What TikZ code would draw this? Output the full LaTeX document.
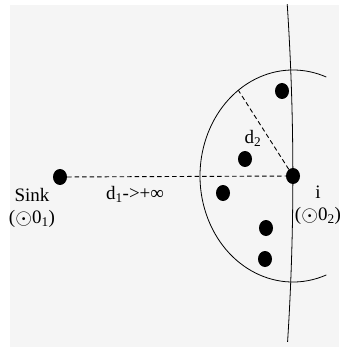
\documentclass[tikz,border=0pt]{standalone}
\usepackage{fontspec}
\usepackage{graphicx}
\setmainfont{Liberation Serif}
\usetikzlibrary{calc,shapes.geometric}
\definecolor{sinkink}{gray}{0}
\definecolor{sinkpaper}{gray}{0.96}
\newcommand{\circdot}{\raisebox{-.1ex}{\scalebox{1.25}{$\odot$}}}

\begin{document}
\begin{tikzpicture}[x=1pt,y=-1pt,
  dot/.style={ellipse,fill=sinkink,inner sep=0pt,minimum width=14pt,minimum height=16pt},
  reach/.style={line width=.9pt,dash pattern=on 4.5pt off 3pt},
  rim/.style={line width=.8pt,draw=sinkink},
  lbl/.style={font=\fontsize{19}{22}\selectfont,align=center,inner sep=0pt}]
\useasboundingbox (0,0) rectangle (339,347);
\fill[sinkpaper] (10,5) rectangle (339,347);
% sink and node i
\node[dot] (sink) at (60,177) {};
\node[dot] (i) at (293,176) {};
% neighbours of i
\foreach \p [count=\k] in {(282,91),(245,159),(223,193),(266,228),(265,259)}
  \node[dot] (nb\k) at \p {};
% far circle round the sink, and the half circle round i
\draw[rim] (i.center) ++(-2600,0) ++(-3.79:2600) arc[start angle=-3.79,end angle=3.66,radius=2600];
\draw[rim] (i.center) ++(69:93 and 106) arc[start angle=69,end angle=291,x radius=93,y radius=106];
\coordinate (rimpt) at ($(i.center)+(234:93 and 106)$);
\draw[reach] (sink) -- (i);
\draw[reach] (i) -- (rimpt);
\node[lbl] (sinklbl) at (32,208) {Sink\\(\circdot0\textsubscript{1})};
\node[lbl] (d1lbl) at (135,194) {d\textsubscript{1}->+∞};
\node[lbl] (d2lbl) at (253,138) {d\textsubscript{2}};
\node[lbl] (ilbl) at (318,205) {i\\(\circdot0\textsubscript{2})};
\end{tikzpicture}
\end{document}
